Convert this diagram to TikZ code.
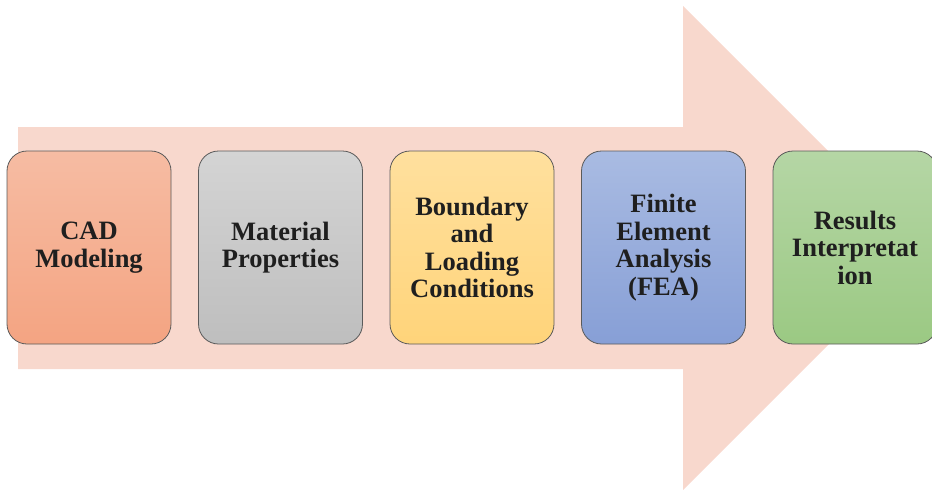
\documentclass[tikz,border=0pt]{standalone}
\usepackage{fontspec}
\setmainfont{Liberation Serif}
\begin{document}
\begin{tikzpicture}[x=1pt,y=-1pt,
  stage/.style={draw=boxline, line width=0.8pt, rounded corners=20pt,
    minimum width=164pt, minimum height=193pt, align=center, inner sep=0pt,
    text=black!88, font=\bfseries\fontsize{26.5}{27.5}\selectfont}]
\definecolor{flow}{HTML}{F8D8CD}
\definecolor{boxline}{HTML}{5A5A5A}
\useasboundingbox (0,0) rectangle (932,490);
% background process arrow
\fill[flow] (18,127) -- (683,127) -- (683,6) -- (925,248) -- (683,490)
  -- (683,369) -- (18,369) -- cycle;
% process stages
\node[stage, top color={rgb,255:red,246;green,188;blue,163}, bottom color={rgb,255:red,244;green,164;blue,130}]
  (cad) at (89,247.5) {CAD\\Modeling};
\node[stage, top color={rgb,255:red,212;green,212;blue,212}, bottom color={rgb,255:red,190;green,190;blue,190}]
  (mat) at (280.5,247.5) {Material\\Properties};
\node[stage, top color={rgb,255:red,255;green,224;blue,158}, bottom color={rgb,255:red,255;green,212;blue,122}]
  (bc) at (472,247.5) {Boundary\\and\\Loading\\Conditions};
\node[stage, top color={rgb,255:red,169;green,187;blue,226}, bottom color={rgb,255:red,135;green,159;blue,214}]
  (fea) at (663.5,247.5) {Finite\\Element\\Analysis\\(FEA)};
\node[stage, top color={rgb,255:red,181;green,214;blue,165}, bottom color={rgb,255:red,155;green,201;blue,131}]
  (res) at (855,247.5) {Results\\Interpretat\\ion};
\end{tikzpicture}
\end{document}
